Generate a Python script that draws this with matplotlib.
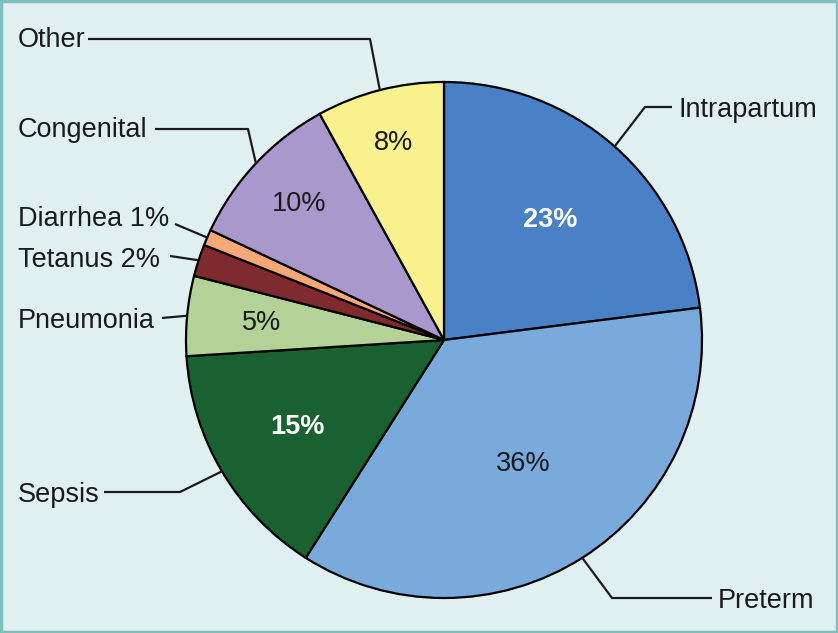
import numpy as np
import matplotlib
matplotlib.use("Agg")
import matplotlib.pyplot as plt
from matplotlib.patches import Rectangle

causes = ["Intrapartum", "Preterm", "Sepsis", "Pneumonia", "Tetanus", "Diarrhea", "Congenital", "Other"]
shares = [23, 36, 15, 5, 2, 1, 10, 8]
colors = ["#4a80c5", "#7aa9dc", "#196130", "#b4d197", "#7e2a2f", "#f7a877", "#a898cb", "#f8f18d"]
pct_text = ["23%", "36%", "15%", "5%", None, None, "10%", "8%"]
outer_text = ["Intrapartum", "Preterm", "Sepsis", "Pneumonia", "Tetanus 2%", "Diarrhea 1%", "Congenital", "Other"]

W, H = 838, 633
plt.rcParams['font.family'] = ['Liberation Sans', 'DejaVu Sans']

fig = plt.figure(figsize=(W / 100, H / 100), dpi=100)
fig.patch.set_facecolor("#e0f0f0")
ax = fig.add_axes([0, 0, 1, 1])
ax.set_xlim(0, W)
ax.set_ylim(0, H)
ax.axis("off")

cx, cy, R = 444, H - 340, 258
wedges, _ = ax.pie(shares, colors=colors, startangle=90, counterclock=False,
                   center=(cx, cy), radius=R, frame=True,
                   wedgeprops=dict(edgecolor="black", linewidth=1.6))
ax.set_xlim(0, W)
ax.set_ylim(0, H)
ax.set_aspect("equal")
ax.axis("off")

# percentage labels inside wedges
pct_frac = [0.62, 0.57, 0.66, 0.71, 0, 0, 0.77, 0.79]
pct_bold = [True, False, True, False, False, False, False, False]
for w, t, f, b in zip(wedges, pct_text, pct_frac, pct_bold):
    if t is None:
        continue
    a = np.deg2rad((w.theta1 + w.theta2) / 2)
    ax.text(cx + f * R * np.cos(a), cy + f * R * np.sin(a), t,
            ha="center", va="center", fontsize=19.5,
            color="white" if b else "#1a1a1a",
            fontweight="bold" if b else "normal")

# outside labels with connector lines (pixel layout, y from top)
text_pos = [(678, 107, "left"), (718, 598, "left"), (18, 492, "left"), (18, 318, "left"),
            (18, 257, "left"), (18, 216, "left"), (18, 127, "left"), (18, 37, "left")]
line_pts = [[(645, 107), (672, 107)],
            [(612, 598), (712, 598)],
            [(180, 492), (104, 492)],
            [(162, 318)],
            [(170, 256)],
            [(175, 224)],
            [(248, 129), (155, 129)],
            [(370, 39), (88, 39)]]
for w, lab, (tx, ty, ha), pts in zip(wedges, outer_text, text_pos, line_pts):
    a = np.deg2rad((w.theta1 + w.theta2) / 2)
    xs = [cx + R * np.cos(a)] + [p[0] for p in pts]
    ys = [cy + R * np.sin(a)] + [H - p[1] for p in pts]
    ax.plot(xs, ys, color="#1a1a1a", linewidth=1.6, solid_capstyle="butt")
    ax.text(tx, H - ty, lab, ha=ha, va="center_baseline", fontsize=19.5, color="#1a1a1a")

ax.add_patch(Rectangle((1, 1), W - 2, H - 2, fill=False, edgecolor="#7fbfbd", linewidth=2.5))

fig.savefig("out.png", dpi=100, facecolor=fig.get_facecolor())
